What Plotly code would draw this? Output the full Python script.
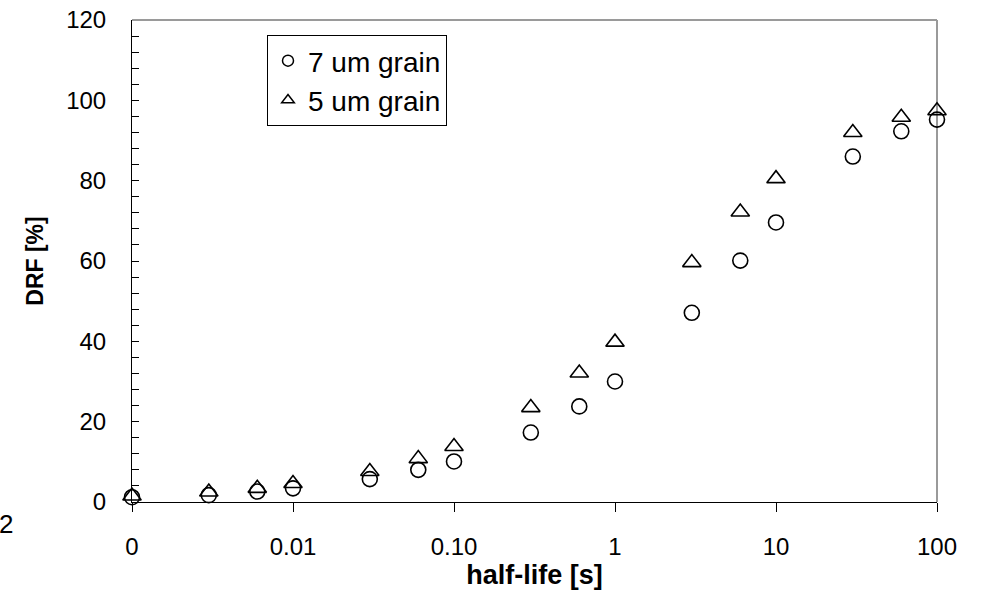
import plotly.graph_objects as go

half_life = [0.001, 0.003, 0.006, 0.01, 0.03, 0.06, 0.1, 0.3, 0.6, 1, 3, 6, 10, 30, 60, 100]
drf_7um = [1.2, 1.7, 2.6, 3.4, 5.7, 8.0, 10.1, 17.3, 23.8, 30.0, 47.1, 60.1, 69.6, 86.0, 92.3, 95.2]
drf_5um = [1.5, 2.5, 3.4, 4.6, 7.6, 10.8, 13.8, 23.5, 32.1, 39.8, 59.6, 72.2, 80.5, 92.0, 95.8, 97.4]
series_names = ["7 um grain", "5 um grain"]
x_tickvals = [0.001, 0.01, 0.1, 1, 10, 100]
x_ticktext = ["0", "0.01", "0.10", "1", "10", "100"]
y_tickvals = [0, 20, 40, 60, 80, 100, 120]

FONT = "Liberation Sans, Arial, sans-serif"

fig = go.Figure()
# data traces
fig.add_trace(go.Scatter(x=half_life, y=drf_7um, mode="markers", name=series_names[0],
                         showlegend=False, cliponaxis=False,
                         marker=dict(symbol="circle-open", size=15, color="black", line=dict(width=1.6, color="black"))))
fig.add_trace(go.Scatter(x=half_life, y=drf_5um, mode="markers", name=series_names[1],
                         showlegend=False, cliponaxis=False,
                         marker=dict(symbol="triangle-up-open", size=16, color="black", line=dict(width=1.6, color="black"))))
# legend entries (smaller symbols as in reference)
fig.add_trace(go.Scatter(x=[None], y=[None], mode="markers", name=series_names[0], legendgroup="a",
                         marker=dict(symbol="circle-open", size=11, color="black", line=dict(width=1.5, color="black"))))
fig.add_trace(go.Scatter(x=[None], y=[None], mode="markers", name=series_names[1], legendgroup="b",
                         marker=dict(symbol="triangle-up-open", size=11, color="black", line=dict(width=1.5, color="black"))))

fig.update_layout(
    width=983, height=592,
    margin=dict(l=132, r=46, t=20, b=90, autoexpand=False),
    paper_bgcolor="white", plot_bgcolor="white",
    font=dict(family=FONT, color="black", size=24),
    showlegend=True,
    legend=dict(x=(267 - 132) / 805, y=(502 - 35) / 482, xanchor="left", yanchor="top",
                bordercolor="black", borderwidth=1, bgcolor="white",
                font=dict(family=FONT, size=28, color="black"),
                tracegroupgap=0, itemwidth=30),
)

fig.update_xaxes(
    type="log", range=[-3, 2], tickvals=x_tickvals, ticktext=x_ticktext,
    ticks="outside", ticklen=9, tickcolor="black", tickwidth=1,
    showline=True, linecolor="black", linewidth=1, showgrid=False, zeroline=False,
    tickfont=dict(size=24), ticklabelstandoff=14,
    title=dict(text="<b>half-life [s]</b>", font=dict(size=27), standoff=4),
    automargin=False,
)
fig.update_yaxes(
    range=[0, 120], tickvals=y_tickvals,
    ticks="inside", ticklen=7, tickcolor="black", tickwidth=1,
    minor=dict(dtick=4, tick0=0, ticks="inside", ticklen=7, tickcolor="black", tickwidth=1, showgrid=False),
    showline=True, linecolor="black", linewidth=1, showgrid=False, zeroline=False,
    tickfont=dict(size=24), ticklabelstandoff=20,
    title=dict(text="<b>DRF [%]</b>", font=dict(size=23), standoff=16),
    automargin=False,
)

# gray top and right borders of the plot area
fig.add_shape(type="line", xref="x domain", yref="y domain", x0=0, x1=1, y0=1, y1=1,
              line=dict(color="#9a9a9a", width=2), layer="below")
fig.add_shape(type="line", xref="x domain", yref="y domain", x0=1, x1=1, y0=0, y1=1,
              line=dict(color="#9a9a9a", width=2), layer="below")

# stray label at lower left
fig.add_annotation(text="2", xref="paper", yref="paper", x=(6 - 132) / 805, y=(502 - 524) / 482,
                   showarrow=False, xanchor="center", yanchor="middle", font=dict(size=26))

fig.write_html("out.html")
